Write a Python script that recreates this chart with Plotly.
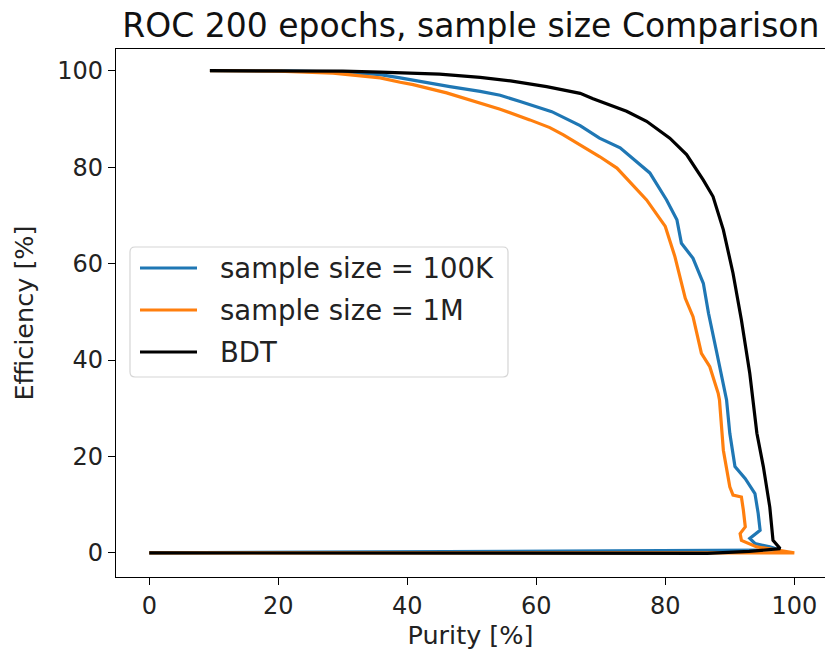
import plotly.graph_objects as go

# ---- data ----
purity_100k = [9.4, 20, 30, 35.8, 38.9, 43.5, 46.6, 51.3, 54.4, 57.5, 62.4, 66.8, 69.8, 73.0,
               77.6, 80.2, 81.8, 82.5, 84.3, 85.9, 86.7, 88.0, 89.5, 90.0, 90.8, 92.4, 93.9,
               94.4, 94.7, 93.1, 93.9, 96.2, 97.8, 0.0]
eff_100k = [100, 99.95, 99.7, 99.2, 98.5, 97.4, 96.7, 95.7, 94.9, 93.6, 91.5, 88.6, 86.0, 84.0,
            78.8, 73.2, 69.1, 64.2, 61.1, 55.9, 49.7, 41.4, 31.7, 24.8, 17.9, 15.4, 12.3,
            8.2, 4.7, 3.0, 1.95, 1.25, 0.6, 0.0]

purity_1m = [9.4, 20, 28.5, 35.8, 38.9, 40.9, 46.1, 52.8, 54.4, 59.0, 62.1, 64.2, 67.3, 69.8,
             72.5, 77.1, 80.0, 81.5, 83.1, 84.3, 85.6, 86.9, 88.2, 88.4, 89.0, 90.0, 90.5,
             91.8, 92.1, 92.4, 91.6, 91.8, 94.2, 97.8, 100.0, 0.0]
eff_1m = [100, 99.9, 99.5, 98.5, 97.6, 97.1, 95.4, 92.6, 92.0, 89.8, 88.2, 86.7, 84.3, 82.2,
          79.8, 73.2, 67.7, 61.4, 52.8, 49.0, 41.4, 38.6, 33.1, 31.7, 21.3, 13.7, 12.0,
          11.6, 8.9, 5.4, 4.0, 2.6, 1.25, 0.56, 0.0, 0.0]

purity_bdt = [9.4, 30, 35.8, 45, 51.3, 56, 61.6, 66.8, 68.8, 69.8, 74, 77.1, 80.7, 83.3, 85.9,
              87.4, 89.0, 90.5, 91.8, 93.1, 93.6, 94.2, 95.2, 96.2, 96.7, 97.8, 93, 86.5, 0.0]
eff_bdt = [100, 99.9, 99.7, 99.3, 98.6, 97.9, 96.7, 95.3, 94.2, 93.7, 91.6, 89.5, 86.0, 82.6, 77.3,
           73.9, 67.0, 58.0, 48.3, 37.2, 31.7, 24.8, 17.9, 9.5, 2.6, 0.9, 0.3, -0.1, 0.0]

series_names = ["sample size = 100K", "sample size = 1M", "BDT"]
series_colors = ["#1f77b4", "#ff7f0e", "#000000"]
tick_vals = [0, 20, 40, 60, 80, 100]

# ---- layout geometry (pixels) ----
W, H = 825, 653
L, T, B, R = 116, 49, 76, 0
PW, PH = W - L - R, H - T - B
FONT = "DejaVu Sans"

fig = go.Figure()
for xs, ys, name, col in zip([purity_100k, purity_1m, purity_bdt],
                             [eff_100k, eff_1m, eff_bdt], series_names, series_colors):
    fig.add_trace(go.Scatter(x=xs, y=ys, mode="lines", name=name,
                             line=dict(color=col, width=3.2), showlegend=False))

def px2paper(x, y):
    return (x - L) / PW, (H - B - y) / PH

# custom legend
lx0, ly0, lx1, ly1 = 130, 247, 508, 377
rad = 5
rx, ry = rad / PW, rad / PH
x0, y1p = px2paper(lx0, ly0)
x1, y0p = px2paper(lx1, ly1)
path = (f"M{x0+rx},{y0p} L{x1-rx},{y0p} Q{x1},{y0p} {x1},{y0p+ry} "
        f"L{x1},{y1p-ry} Q{x1},{y1p} {x1-rx},{y1p} L{x0+rx},{y1p} "
        f"Q{x0},{y1p} {x0},{y1p-ry} L{x0},{y0p+ry} Q{x0},{y0p} {x0+rx},{y0p} Z")
fig.add_shape(type="path", path=path, xref="paper", yref="paper",
              fillcolor="rgba(255,255,255,0.8)", line=dict(color="#d5d5d5", width=1.2))
row_y = [268, 310, 352]
for name, col, ry_px in zip(series_names, series_colors, row_y):
    a, b = px2paper(140, ry_px)
    c, _ = px2paper(197, ry_px)
    fig.add_shape(type="line", xref="paper", yref="paper", x0=a, x1=c, y0=b, y1=b,
                  line=dict(color=col, width=3.2))
    tx, ty = px2paper(218, ry_px)
    fig.add_annotation(text=name, xref="paper", yref="paper", x=tx, y=ty,
                       xanchor="left", yanchor="middle", showarrow=False,
                       font=dict(family=FONT, size=27.5, color="#222222"))

fig.update_layout(
    width=W, height=H,
    margin=dict(l=L, r=R, t=T, b=B, pad=0),
    paper_bgcolor="white", plot_bgcolor="white",
    font=dict(family=FONT, size=24, color="#222222"),
    title=dict(text="ROC 200 epochs, sample size Comparison", x=0.5006, xref="paper",
               xanchor="center", y=1 - 25 / H, yref="container", yanchor="middle",
               font=dict(family=FONT, size=33, color="#111111")),
)
fig.update_xaxes(range=[-5.16, 104.76], tickvals=tick_vals, ticks="outside", ticklen=7,
                 tickwidth=1.2, tickcolor="black", showline=True, linecolor="black",
                 linewidth=1.2, mirror=True, showgrid=False, zeroline=False,
                 title=dict(text="Purity [%]", standoff=6, font=dict(size=25.5)),
                 tickfont=dict(size=24))
fig.update_yaxes(range=[-5.0, 104.5], tickvals=tick_vals, ticks="outside", ticklen=7,
                 tickwidth=1.2, tickcolor="black", showline=True, linecolor="black",
                 linewidth=1.2, showgrid=False, zeroline=False,
                 title=dict(text="Efficiency [%]", standoff=16, font=dict(size=25.5)),
                 tickfont=dict(size=24))

fig.write_html("out.html")
